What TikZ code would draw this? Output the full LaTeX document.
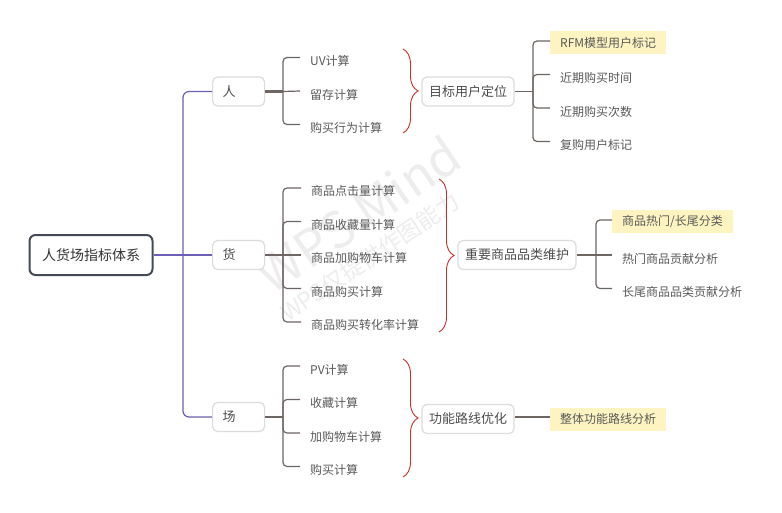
\documentclass[tikz,border=0pt]{standalone}
\usepackage{fontspec}
\setmainfont{Noto Sans CJK SC}
\usetikzlibrary{decorations.pathreplacing}
\definecolor{txtc}{HTML}{5A5A5A}
\definecolor{topc}{HTML}{4D4D4D}
\definecolor{lnc}{HTML}{6E6662}
\definecolor{purc}{HTML}{6C5FB5}
\definecolor{bdc}{HTML}{DCDCDC}
\definecolor{rootbd}{HTML}{454B55}
\definecolor{hlc}{HTML}{FDF4C1}
\definecolor{bracec}{HTML}{C9302C}
\definecolor{wmc}{HTML}{EDEDED}
\begin{document}
\begin{tikzpicture}[x=1pt,y=-1pt,
  leaf/.style={anchor=west, inner sep=0pt, text=txtc, font=\fontsize{12}{14}\selectfont},
  hlbox/.style={anchor=west, fill=hlc, inner xsep=10pt, inner ysep=0pt, minimum height=23pt, text=txtc, font=\fontsize{12}{14}\selectfont},
  topic/.style={draw=bdc, line width=1.2pt, rounded corners=5pt, fill=white, minimum height=29pt, inner xsep=7pt, text=topc, font=\fontsize{13}{15}\selectfont},
  cat/.style={topic, anchor=west, text width=32pt, inner xsep=10pt, align=left},
  rootbox/.style={draw=rootbd, line width=2pt, rounded corners=6pt, fill=white, minimum width=123pt, minimum height=40pt, text=black!80, font=\fontsize{14}{16}\selectfont},
  conn/.style={draw=lnc, line width=1.2pt, rounded corners=4pt},
  thickconn/.style={draw=lnc, line width=2.2pt},
  purp/.style={draw=purc, line width=1.2pt, rounded corners=6pt},
  bracestyle/.style={draw=bracec, line width=0.9pt, decorate, decoration={brace, amplitude=15pt}},
  wm/.style={text=wmc, inner sep=0pt},
]
\useasboundingbox[fill=white] (0,0) rectangle (782,512);

% watermark
\node[wm, font=\fontsize{50}{50}\selectfont, rotate=34] (wm1) at (358,214) {WPS Mind};
\node[wm, font=\fontsize{23}{23}\selectfont, rotate=34] (wm2) at (370,257) {WPS仅提供作图能力};

% root and categories
\node[rootbox] (root) at (91,255) {人货场指标体系};
\node[cat] (ren) at (212,91.5) {人};
\node[cat] (huo) at (212,255) {货};
\node[cat] (chang) at (212,417) {场};
\coordinate (pj) at (183,255);
\draw[purp] (ren.west) -| (pj) |- (chang.west);
\draw[purp] (root.east) -- (huo.west);

% ---- 人 ----
\node[leaf] (uv) at (310,61) {UV计算};
\node[leaf] (lc) at (310,94.5) {留存计算};
\node[leaf] (gmxw) at (310,128) {购买行为计算};
\coordinate (rj) at (283,91.5);
\draw[thickconn] (ren.east) -- (rj);
\draw[conn] ([shift={(-10pt,3.5pt)}]uv.west) -| (rj) |- ([shift={(-10pt,3.5pt)}]gmxw.west);
\draw[conn] (rj) -- ([shift={(-10pt,3.5pt)}]lc.west);
\coordinate (b1a) at (403,49);
\coordinate (b1b) at (403,133);
\draw[bracestyle] (b1a) -- (b1b);
\node[topic] (mb) at (468,91.5) {目标用户定位};
\coordinate (mj) at (533,91.5);
\draw[conn] (mb.east) -- (mj);
\node[hlbox] (rfm) at (550,42.5) {RFM模型用户标记};
\node[leaf] (jq1) at (560,78) {近期购买时间};
\node[leaf] (jq2) at (560,111.5) {近期购买次数};
\node[leaf] (fg) at (560,145) {复购用户标记};
\draw[conn] ([yshift=1.5pt]rfm.west) -| (mj) |- ([shift={(-10pt,3.5pt)}]fg.west);
\draw[conn] (mj) |- ([shift={(-10pt,3.5pt)}]jq1.west);
\draw[conn] (mj) |- ([shift={(-10pt,3.5pt)}]jq2.west);

% ---- 货 ----
\node[leaf] (g1) at (311,191) {商品点击量计算};
\node[leaf] (g2) at (311,224.5) {商品收藏量计算};
\node[leaf] (g3) at (311,258) {商品加购物车计算};
\node[leaf] (g4) at (311,291.5) {商品购买计算};
\node[leaf] (g5) at (311,325) {商品购买转化率计算};
\coordinate (hj) at (283,255);
\draw[thickconn] (huo.east) -- (hj);
\draw[conn] ([shift={(-10pt,3pt)}]g1.west) -| (hj) |- ([shift={(-10pt,3pt)}]g5.west);
\draw[conn] (hj) |- ([shift={(-10pt,3pt)}]g2.west);
\draw[conn] (hj) -- ([shift={(-10pt,3pt)}]g3.west);
\draw[conn] (hj) |- ([shift={(-10pt,3pt)}]g4.west);
\coordinate (b2a) at (439,179);
\coordinate (b2b) at (439,332);
\draw[bracestyle] (b2a) -- (b2b);
\node[topic] (zy) at (517,255) {重要商品品类维护};
\coordinate (zj) at (596,255);
\draw[conn] (zy.east) -- (zj);
\node[hlbox] (rm) at (612,221.5) {商品热门/长尾分类};
\node[leaf] (rmgx) at (622,258.5) {热门商品贡献分析};
\node[leaf] (cwgx) at (622,292) {长尾商品品类贡献分析};
\draw[conn] ([yshift=1.5pt]rm.west) -| (zj) |- ([shift={(-10pt,3.5pt)}]cwgx.west);
\draw[conn] (zj) -- ([shift={(-10pt,3.5pt)}]rmgx.west);

% ---- 场 ----
\node[leaf] (pv) at (310,369.5) {PV计算};
\node[leaf] (sc) at (310,403) {收藏计算};
\node[leaf] (jg) at (310,436.5) {加购物车计算};
\node[leaf] (gm) at (310,470) {购买计算};
\coordinate (cj) at (283,417);
\draw[thickconn] (chang.east) -- (cj);
\draw[conn] ([shift={(-10pt,3.5pt)}]pv.west) -| (cj) |- ([shift={(-10pt,3.5pt)}]gm.west);
\draw[conn] (cj) |- ([shift={(-10pt,3.5pt)}]sc.west);
\draw[conn] (cj) |- ([shift={(-10pt,3.5pt)}]jg.west);
\coordinate (b3a) at (403,359);
\coordinate (b3b) at (403,477);
\draw[bracestyle] (b3a) -- (b3b);
\node[topic] (gn) at (468,419) {功能路线优化};
\node[hlbox] (zt) at (550,419) {整体功能路线分析};
\draw[conn] ([yshift=2pt]gn.east) -- ([yshift=2pt]zt.west);
\end{tikzpicture}
\end{document}
